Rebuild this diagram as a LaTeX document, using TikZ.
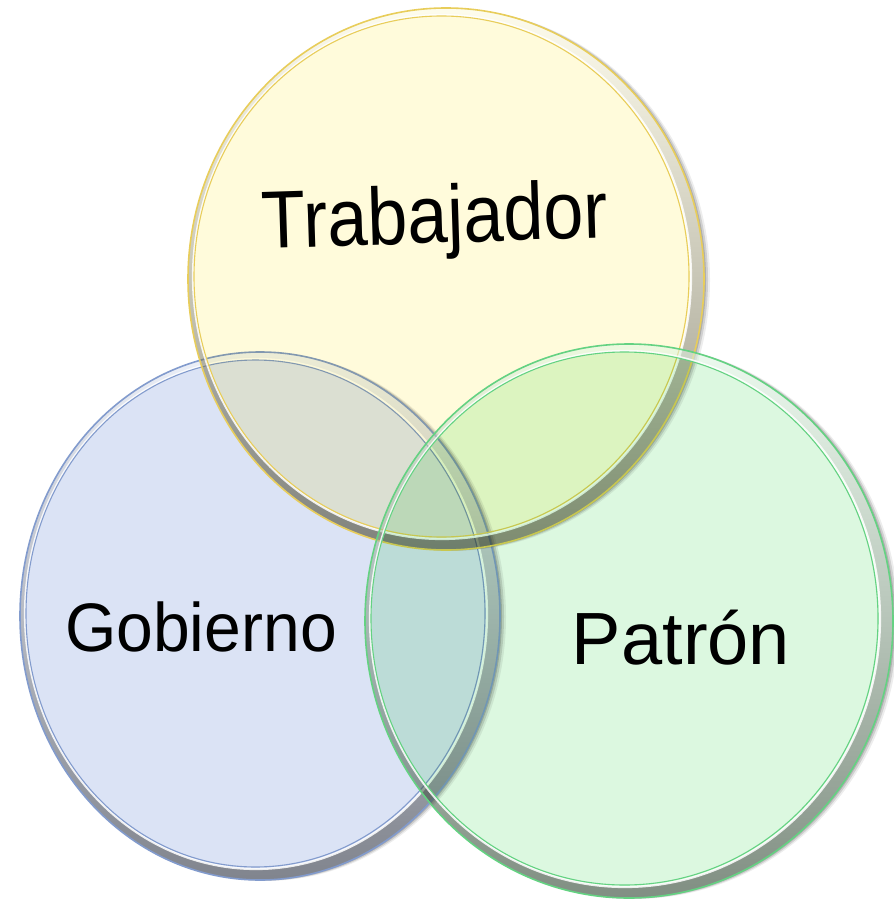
\documentclass[tikz,border=0pt]{standalone}
\usepackage{fontspec}
\setmainfont{Liberation Sans}
\usepackage{graphicx}
\definecolor{yfill}{RGB}{255,251,219}
\definecolor{yrim}{RGB}{232,205,90}
\definecolor{bfill}{RGB}{219,227,245}
\definecolor{brim}{RGB}{130,155,205}
\definecolor{gfill}{RGB}{220,248,224}
\definecolor{grim}{RGB}{100,210,130}
\newcommand\glassdisc[7]{% name cx cy rx ry fill rim
  \coordinate (#1) at (#2,#3);
  \begin{scope}[even odd rule]
    \clip (-50,-50) rectangle (950,950) (#1) ellipse [x radius=#4, y radius=#5];
    \fill[black, opacity=0.16] ([shift={(2,0.3)}]#1) ellipse [x radius=#4, y radius=#5];
    \fill[black, opacity=0.12] ([shift={(4,0.6)}]#1) ellipse [x radius=#4, y radius=#5];
    \fill[black, opacity=0.07] ([shift={(6,0.9)}]#1) ellipse [x radius=#4, y radius=#5];
  \end{scope}
  \fill[#6, blend mode=multiply] (#1) ellipse [x radius=#4, y radius=#5];
  \begin{scope}
    \clip (#1) ellipse [x radius=#4, y radius=#5];
    \shade[even odd rule, left color=white, middle color=white!85!black, right color=black!85, shading angle=0, opacity=0.5]
      (#1) ellipse [x radius=#4+2, y radius=#5+2]
      ([shift={(-4,-2)}]#1) ellipse [x radius=#4-9, y radius=#5-9];
  \end{scope}
  \draw[white, line width=2.2, opacity=0.85] ([shift={(-4,-2)}]#1) ellipse [x radius=#4-9, y radius=#5-9];
  \draw[#7, line width=1.1] ([shift={(-4.5,-2.5)}]#1) ellipse [x radius=#4-10.5, y radius=#5-10.5];
  \draw[#7, line width=1.6] (#1) ellipse [x radius=#4, y radius=#5];
}
\begin{document}
\begin{tikzpicture}[x=1pt,y=-1pt]
\useasboundingbox (0,0) rectangle (893,901);
\glassdisc{bc}{260}{616}{240}{264}{bfill}{brim}
\glassdisc{yc}{446}{279}{258}{271}{yfill}{yrim}
\glassdisc{gc}{629}{621}{264}{277}{gfill}{grim}
\node[rotate=1.8] (tra) at (435,222) {\scalebox{1}[1.13]{\fontsize{72}{80}\selectfont Trabajador}};
\node (gob) at (201,627) {\scalebox{1}[1.04]{\fontsize{66}{74}\selectfont Gobierno}};
\node (pat) at (681,638) {\fontsize{74}{80}\selectfont Patrón};
\end{tikzpicture}
\end{document}
